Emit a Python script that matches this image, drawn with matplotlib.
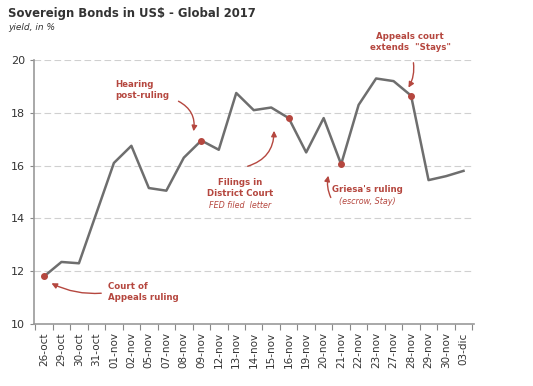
import matplotlib
matplotlib.use("Agg")
import matplotlib.pyplot as plt
import numpy as np

dates = ["26-oct", "29-oct", "30-oct", "31-oct", "01-nov", "02-nov", "05-nov", "07-nov",
         "08-nov", "09-nov", "12-nov", "13-nov", "14-nov", "15-nov", "16-nov", "19-nov",
         "20-nov", "21-nov", "22-nov", "23-nov", "27-nov", "28-nov", "29-nov", "30-nov", "03-dic"]
yields = [11.8, 12.35, 12.3, 14.2, 16.1, 16.75, 15.15, 15.05, 16.3, 16.95, 16.6, 18.75,
          18.1, 18.2, 17.8, 16.5, 17.8, 16.05, 18.3, 19.3, 19.2, 18.65, 15.45, 15.6, 15.8]
event_idx = [0, 9, 14, 17, 21]
yticks = [10, 12, 14, 16, 18, 20]

RED = "#b5473f"
LINE = "#6e6e6e"

fig = plt.figure(figsize=(5.33, 3.86), dpi=100)
ax = fig.add_axes([34/533, 1-324/386, (474-34)/533, (324-60)/386])

x = np.arange(len(dates))
ax.plot(x, yields, color=LINE, lw=1.8, zorder=3)
ax.scatter([x[i] for i in event_idx], [yields[i] for i in event_idx], s=16, color=RED, zorder=4)

ax.set_ylim(10, 20)
ax.set_xlim(-0.57, 24.6)
ax.set_yticks(yticks)
ax.set_yticklabels([str(v) for v in yticks], fontsize=8, color="#333333")
for v in yticks[1:]:
    ax.axhline(v, color="#d0d0d0", lw=0.8, ls=(0, (6, 3)), zorder=1)

ax.set_xticks(x)
ax.set_xticklabels(dates, rotation=90, fontsize=7.5, color="#333333")
ax.set_xticks(np.arange(-0.5, len(dates), 1), minor=True)
ax.tick_params(axis="x", which="major", length=0, pad=6)
ax.tick_params(axis="x", which="minor", length=4, color="#888888", width=0.8)
ax.tick_params(axis="y", length=3, color="#888888", width=0.8)

for s in ["top", "right"]:
    ax.spines[s].set_visible(False)
for s in ["left", "bottom"]:
    ax.spines[s].set_color("#999999")
    ax.spines[s].set_linewidth(1.2)

fig.text(8/533, 1-14/386, "Sovereign Bonds in US$ - Global 2017", fontsize=8.4,
         fontweight="bold", color="#333333", va="center", ha="left")
fig.text(8/533, 1-28/386, "yield, in %", fontsize=6.5, style="italic",
         color="#333333", va="center", ha="left")

def px(xp, yp):
    return (xp/533, 1-yp/386)

ap = dict(arrowstyle="-|>", color=RED, lw=1.0, mutation_scale=8)
FS = 6.2

# Court of Appeals ruling
fig.text(*px(108, 292), "Court of\nAppeals ruling", fontsize=FS, fontweight="bold",
         color=RED, ha="left", va="center", linespacing=1.2)
ax.annotate("", xy=px(49, 282), xycoords="figure fraction", xytext=px(104, 293),
            textcoords="figure fraction",
            arrowprops=dict(ap, connectionstyle="arc3,rad=-0.15"))

# Hearing post-ruling
fig.text(*px(115, 90), "Hearing\npost-ruling", fontsize=FS, fontweight="bold",
         color=RED, ha="left", va="center", linespacing=1.3)
ax.annotate("", xy=px(193, 134), xycoords="figure fraction", xytext=px(176, 100),
            textcoords="figure fraction",
            arrowprops=dict(ap, connectionstyle="arc3,rad=-0.4"))

# Filings in District Court
fig.text(*px(240, 188), "Filings in\nDistrict Court", fontsize=FS, fontweight="bold",
         color=RED, ha="center", va="center", linespacing=1.2)
fig.text(*px(240, 205), "FED filed  letter", fontsize=5.8, style="italic",
         color=RED, ha="center", va="center")
ax.annotate("", xy=px(274, 128), xycoords="figure fraction", xytext=px(245, 167),
            textcoords="figure fraction",
            arrowprops=dict(ap, connectionstyle="arc3,rad=0.4"))

# Griesa's ruling
fig.text(*px(367, 190), "Griesa's ruling", fontsize=FS, fontweight="bold",
         color=RED, ha="center", va="center")
fig.text(*px(367, 202), "(escrow, Stay)", fontsize=5.8, style="italic",
         color=RED, ha="center", va="center")
ax.annotate("", xy=px(329, 173), xycoords="figure fraction", xytext=px(332, 200),
            textcoords="figure fraction",
            arrowprops=dict(ap, connectionstyle="arc3,rad=-0.2"))

# Appeals court extends Stays
fig.text(*px(410, 42), "Appeals court\nextends  \"Stays\"", fontsize=FS, fontweight="bold",
         color=RED, ha="center", va="center", linespacing=1.3)
ax.annotate("", xy=px(407, 90), xycoords="figure fraction", xytext=px(413, 60),
            textcoords="figure fraction",
            arrowprops=dict(ap, connectionstyle="arc3,rad=-0.2"))

fig.savefig("out.png", dpi=100)
